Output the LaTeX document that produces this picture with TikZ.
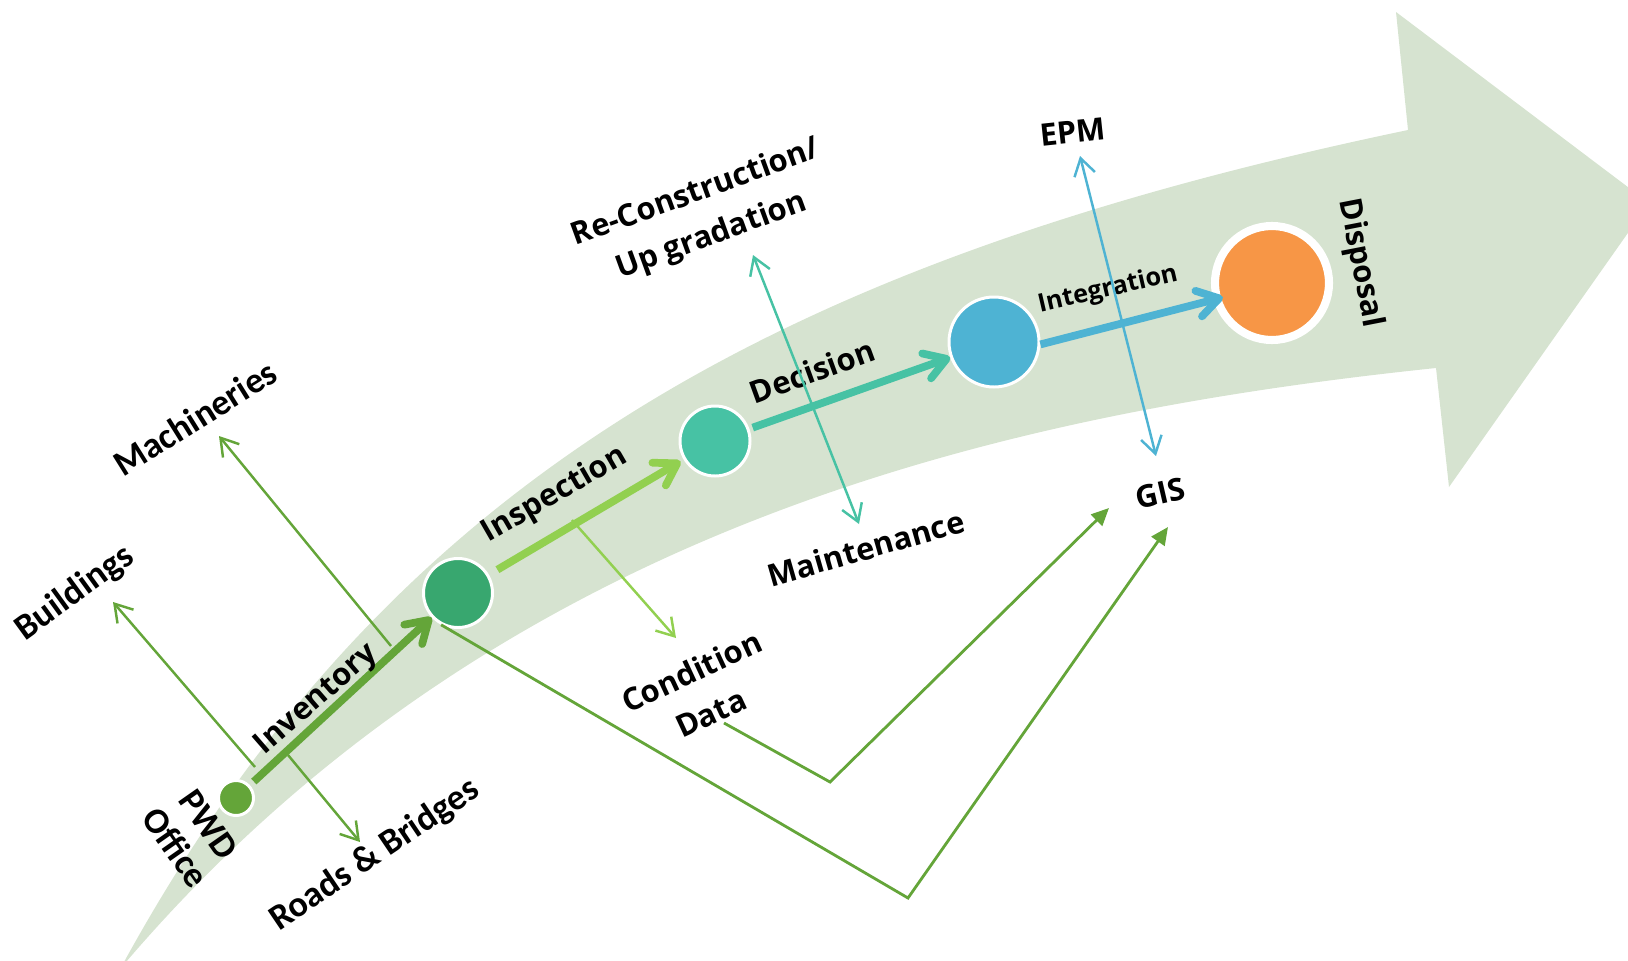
\documentclass[tikz,border=0pt]{standalone}
\usepackage{fontspec}
\setmainfont{Open Sans}
\newfontfamily\calfont{Carlito}
\usetikzlibrary{arrows.meta}
\definecolor{bandgrey}{RGB}{214,227,208}
\definecolor{pwdgreen}{HTML}{64A539}
\definecolor{invgreen}{HTML}{38A76F}
\definecolor{lightgreen}{HTML}{92D050}
\definecolor{tealgreen}{HTML}{47C2A4}
\definecolor{skyblue}{HTML}{4EB3D3}
\definecolor{disporange}{HTML}{F79646}
\tikzset{
  stage/.style={circle, draw=white, line width=0.85pt, inner sep=0pt},
  flow/.style={line width=2.2pt, -{Straight Barb[length=6pt,width=7.5pt,round]}},
  twig/.style={line width=0.7pt, -{Straight Barb[length=4.8pt,width=6pt]}},
  twoway/.style={line width=0.7pt, {Straight Barb[length=4.8pt,width=6pt]}-{Straight Barb[length=4.8pt,width=6pt]}},
  gisline/.style={line width=0.8pt, pwdgreen, -{Triangle[length=5pt,width=4.5pt]}},
  lbl/.style={font=\bfseries\fontsize{8.8}{13}\selectfont, align=center, inner sep=0pt},
  cal/.style={font=\calfont\bfseries\fontsize{10.3}{11.5}\selectfont, align=center, inner sep=0pt}
}

\begin{document}
\begin{tikzpicture}
			%%%%% START %%%%%
			\useasboundingbox (0,0) rectangle (16.28,9.6);
			\clip (0,0) rectangle (16.28,9.6);
			
			% the big curved arrow
			\fill[bandgrey] (1.24,-0.02) .. controls (3.89,4.80) and (7.76,6.98) .. (14.08,8.30) -- (13.96,9.48) -- (16.49,7.57) -- (14.49,4.73) -- (14.36,5.92) .. controls (10.06,5.47) and (5.00,4.35) .. (1.26,-0.02) -- cycle;
			
			% stages
			\node[stage, fill=pwdgreen, minimum size=0.35cm] (pwd) at (2.36, 1.62) {};
			\node[stage, fill=invgreen, minimum size=0.69cm] (inv) at (4.58, 3.67) {};
			\node[stage, fill=tealgreen, minimum size=0.70cm] (insp) at (7.15, 5.19) {};
			\node[stage, fill=skyblue, minimum size=0.90cm] (intg) at (9.94, 6.18) {};
			\node[stage, fill=disporange, minimum size=1.14cm, line width=2.3pt] (disp) at (12.72, 6.77) {};
			
			% main flow
			\draw[flow, pwdgreen, shorten <=1.5pt] (pwd) -- (inv);
			\draw[flow, lightgreen, shorten <=2.8pt, shorten >=1pt] (inv) -- (insp);
			\draw[flow, tealgreen, shorten <=1pt] (insp) -- (intg);
			\draw[flow, skyblue, shorten >=-2.8pt] (intg.-3) -- (disp.196);
			
			% labels
			\node[cal, rotate=36] (bld) at (0.75, 3.67) {Buildings};
			\node[cal, rotate=32] (mach) at (1.95, 5.42) {Machineries};
			\node[cal, rotate=34] (road) at (3.75, 1.05) {Roads \& Bridges};
			\node[cal, rotate=-55] (office) at (1.92, 1.24) {PWD\\Office};
			\node[lbl, rotate=41] (invlbl) at (3.17, 2.60) {Inventory};
			\node[lbl, rotate=30] (insplbl) at (5.55, 4.65) {Inspection};
			\node[lbl, rotate=20] (declbl) at (8.12, 5.89) {Decision};
			\node[lbl, rotate=20] (recon) at (7.04, 7.45) {Re-Construction/\\Up gradation};
			\node[lbl, rotate=16] (maint) at (8.66, 4.12) {Maintenance};
			\node[lbl, rotate=25] (cond) at (7.01, 2.68) {Condition\\Data};
			\node[lbl, rotate=13] (gis) at (11.60, 4.67) {GIS};
			\node[lbl, rotate=6] (epm) at (10.73, 8.28) {EPM};
			\node[lbl, rotate=13, font=\bfseries\fontsize{7.2}{9}\selectfont] (intglbl) at (11.08, 6.70) {Integration};
			\node[lbl, rotate=-79] (displbl) at (13.60, 6.97) {Disposal};
			
			% branch ends
			\coordinate (bld0) at (2.55, 1.93);
			\coordinate (bld1) at (1.13, 3.58);
			\coordinate (mach0) at (3.91, 3.14);
			\coordinate (mach1) at (2.19, 5.24);
			\coordinate (road0) at (2.88, 2.05);
			\coordinate (road1) at (3.60, 1.18);
			\coordinate (cond0) at (5.72, 4.40);
			\coordinate (cond1) at (6.76, 3.22);
			\coordinate (recon0) at (7.53, 7.05);
			\coordinate (recon1) at (8.59, 4.36);
			\coordinate (epm0) at (10.80, 8.04);
			\coordinate (epm1) at (11.56, 5.04);
			\coordinate (datafoot) at (7.24, 2.37);
			\coordinate (kneeA) at (8.30, 1.78);
			\coordinate (kneeB) at (9.08, 0.62);
			\coordinate (gisA) at (11.09, 4.52);
			\coordinate (gisB) at (11.68, 4.33);
			
			\draw[twig, pwdgreen] (bld0) -- (bld1);
			\draw[twig, pwdgreen] (mach0) -- (mach1);
			\draw[twig, pwdgreen] (road0) -- (road1);
			\draw[twig, lightgreen] (cond0) -- (cond1);
			\draw[twoway, tealgreen] (recon0) -- (recon1);
			\draw[twoway, skyblue] (epm0) -- (epm1);
			\draw[gisline] (datafoot) -- (kneeA) -- (gisA);
			\draw[gisline] (inv.242) -- (kneeB) -- (gisB);
			%%%%% END %%%%%
\end{tikzpicture}
\end{document}
